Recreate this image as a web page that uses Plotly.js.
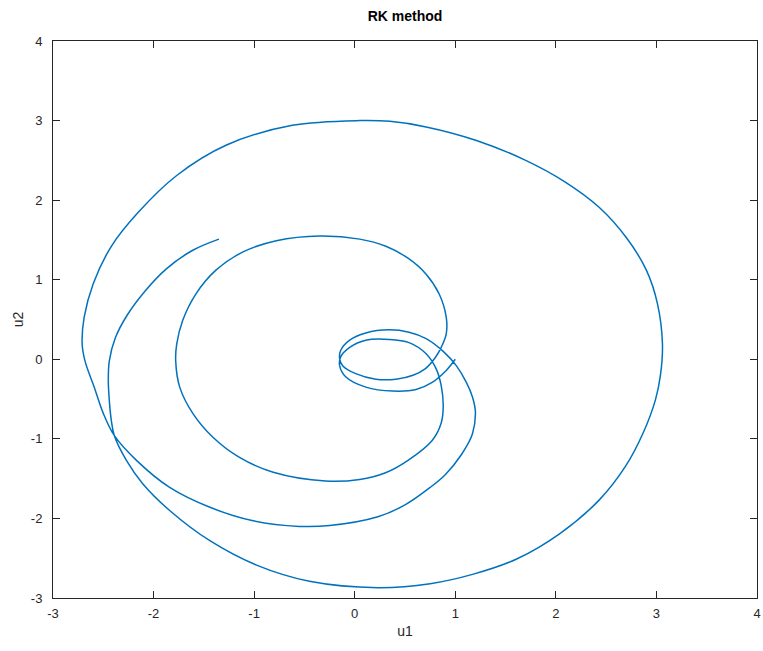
<!DOCTYPE html>
<html>
<head>
<meta charset="utf-8">
<script src="https://cdn.plot.ly/plotly-3.0.1.min.js"></script>
<style>
  html, body { margin: 0; padding: 0; background: #ffffff; }
  #plot { width: 763px; height: 651px; }
</style>
</head>
<body>
<div id="plot"></div>
<script>
// Phase-plane trajectory (u1, u2) from the Runge-Kutta integration, in time order.
const u1 = [
  1.00, 0.91, 0.77, 0.61, 0.38, 0.11, -0.09, -0.15, -0.14, -0.05,
  0.11, 0.34, 0.54, 0.71, 0.81, 0.86, 0.88, 0.86, 0.77, 0.53,
  0.30, 0.05, -0.29, -0.81, -1.15, -1.41, -1.61, -1.74, -1.78, -1.77,
  -1.71, -1.58, -1.38, -1.11, -0.78, -0.35, 0.05, 0.31, 0.53, 0.71,
  0.84, 0.91, 0.91, 0.86, 0.80, 0.70, 0.58, 0.41, 0.21, 0.01,
  -0.12, -0.15, -0.14, -0.05, 0.11, 0.34, 0.54, 0.71, 0.88, 1.01,
  1.11, 1.17, 1.20, 1.17, 1.06, 0.90, 0.75, 0.50, 0.23, -0.25,
  -0.55, -1.01, -1.44, -1.84, -2.17, -2.39, -2.50, -2.59, -2.68, -2.71,
  -2.69, -2.60, -2.42, -2.15, -1.77, -1.28, -0.62, 0.05, 0.35, 0.71,
  1.21, 1.70, 2.09, 2.43, 2.70, 2.90, 3.01, 3.06, 3.04, 2.99,
  2.87, 2.69, 2.43, 2.04, 1.61, 1.18, 0.75, 0.23, -0.45, -0.97,
  -1.44, -1.84, -2.11, -2.27, -2.39, -2.42, -2.44, -2.45, -2.44, -2.38,
  -2.26, -2.09, -1.87, -1.61, -1.35
];
const u2 = [
  0.00, -0.14, -0.29, -0.38, -0.40, -0.35, -0.22, -0.08, 0.03, 0.15,
  0.24, 0.25, 0.21, 0.07, -0.12, -0.33, -0.58, -0.80, -1.02, -1.27,
  -1.43, -1.51, -1.53, -1.42, -1.23, -0.98, -0.68, -0.35, -0.02, 0.19,
  0.49, 0.82, 1.12, 1.35, 1.49, 1.55, 1.51, 1.42, 1.27, 1.07,
  0.82, 0.53, 0.32, 0.15, 0.02, -0.12, -0.20, -0.25, -0.25, -0.18,
  -0.08, 0.01, 0.11, 0.24, 0.33, 0.37, 0.34, 0.26, 0.10, -0.08,
  -0.29, -0.47, -0.66, -0.94, -1.20, -1.45, -1.61, -1.83, -1.98, -2.09,
  -2.10, -2.03, -1.86, -1.61, -1.27, -0.96, -0.68, -0.35, -0.03, 0.19,
  0.53, 0.95, 1.42, 1.85, 2.31, 2.69, 2.94, 3.00, 2.99, 2.92,
  2.75, 2.50, 2.23, 1.91, 1.53, 1.12, 0.70, 0.19, -0.20, -0.51,
  -0.92, -1.35, -1.77, -2.19, -2.51, -2.70, -2.82, -2.87, -2.79, -2.59,
  -2.28, -1.90, -1.56, -1.27, -0.96, -0.77, -0.52, -0.27, -0.02, 0.27,
  0.56, 0.85, 1.14, 1.37, 1.51
];

const tickVals = [-3, -2, -1, 0, 1, 2, 3, 4];
const tickText = ['-3', '-2', '-1', '0', '1', '2', '3', '4'];

const fontFamily = 'Liberation Sans, Arial, sans-serif';

const axisCommon = {
  range: [-3, 4],
  tickvals: tickVals,
  ticktext: tickText,
  ticks: 'inside',
  ticklen: 7,
  tickwidth: 1,
  tickcolor: '#262626',
  showline: true,
  linecolor: '#262626',
  linewidth: 1,
  mirror: 'ticks',
  showgrid: false,
  zeroline: false,
  tickfont: { family: fontFamily, size: 13, color: '#262626' }
};

const trace = {
  x: u1,
  y: u2,
  type: 'scatter',
  mode: 'lines',
  line: { color: '#0072BD', width: 1.5, shape: 'spline', smoothing: 1 },
  hoverinfo: 'x+y'
};

const layout = {
  width: 763,
  height: 651,
  paper_bgcolor: '#ffffff',
  plot_bgcolor: '#ffffff',
  showlegend: false,
  margin: { l: 53, r: 6, t: 41, b: 53 },
  title: {
    text: '<b>RK method</b>',
    font: { family: fontFamily, size: 14, color: '#000000' },
    x: 0.5, xref: 'paper',
    y: 1 - 16 / 651, yref: 'container', yanchor: 'middle'
  },
  xaxis: Object.assign({}, axisCommon, {
    ticklabelstandoff: 3,
    title: { text: 'u1', font: { family: fontFamily, size: 14, color: '#262626' }, standoff: 6 }
  }),
  yaxis: Object.assign({}, axisCommon, {
    ticklabelstandoff: 7,
    title: { text: 'u2', font: { family: fontFamily, size: 14, color: '#262626' }, standoff: 3 }
  })
};

Plotly.newPlot('plot', [trace], layout, { displayModeBar: false, staticPlot: true });
</script>
</body>
</html>
